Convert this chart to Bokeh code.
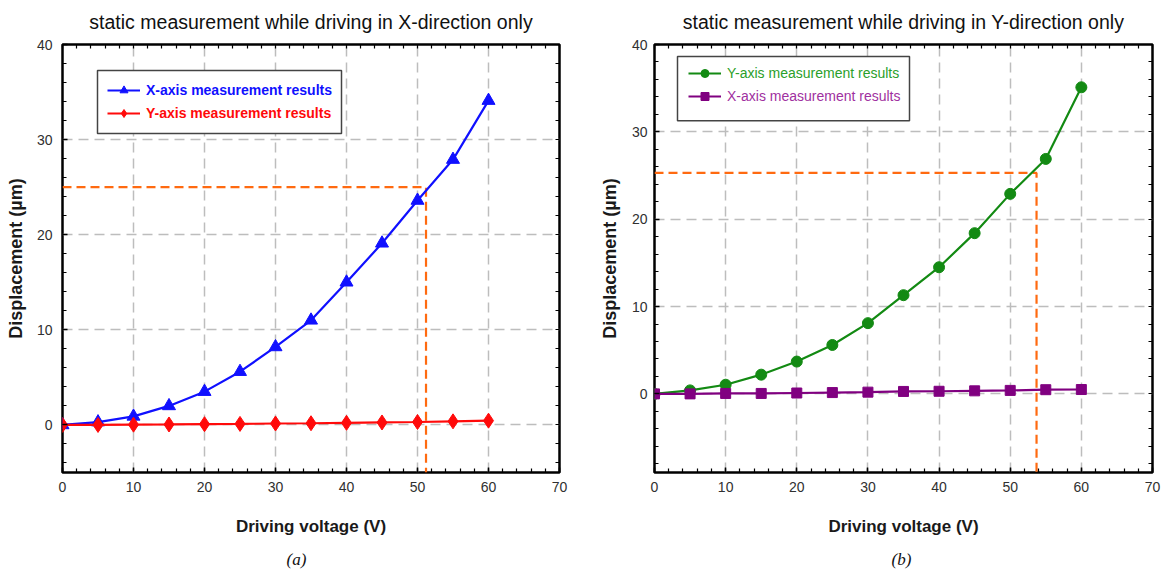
from bokeh.plotting import figure
from bokeh.models import (FixedTicker, LinearAxis, Range1d, Legend, LegendItem,
                          Label, Title, Grid, BoxAnnotation)
from bokeh.layouts import row
from bokeh.embed import file_html
from bokeh.resources import INLINE

# ---------------- data ----------------
voltage = [0, 5, 10, 15, 20, 25, 30, 35, 40, 45, 50, 55, 60]
# panel (a): driving in X-direction
a_x_disp = [0.0, 0.3, 0.9, 2.0, 3.5, 5.6, 8.2, 11.0, 15.0, 19.1, 23.6, 27.9, 34.1]
a_y_disp = [0.0, 0.0, 0.03, 0.05, 0.08, 0.11, 0.15, 0.18, 0.22, 0.26, 0.31, 0.38, 0.45]
# panel (b): driving in Y-direction
b_y_disp = [0.0, 0.4, 1.05, 2.2, 3.7, 5.6, 8.1, 11.3, 14.5, 18.4, 22.9, 26.9, 35.1]
b_x_disp = [0.0, 0.0, 0.05, 0.05, 0.1, 0.15, 0.2, 0.28, 0.3, 0.35, 0.4, 0.48, 0.5]

target_disp = 25
a_cross_v = 51.2
b_cross_v = 53.7

x_ticks = [0, 10, 20, 30, 40, 50, 60, 70]
y_ticks = [0, 10, 20, 30, 40]
grid_x = [10, 20, 30, 40, 50, 60]
grid_y = [0, 10, 20, 30]

title_a = "static measurement while driving in X-direction only"
title_b = "static measurement while driving in Y-direction only"
x_label = "Driving voltage (V)"
y_label = "Displacement (\u00b5m)"

FONT = "Liberation Sans"
ORANGE = "#ff6a10"
TXT = "#303030"
FIG_H = 579
X_MAX = 70
Y_MAX = 40


def make_panel(title, caption, caption_offset, y_start, width, mb_left, mb_right,
               mb_top, frame_w, frame_h, tick_std, ylab_std, title_std, series,
               box_px, legend_pad, legend_spacing, legend_style, cross_v, guide_y):
    p = figure(width=width, height=FIG_H, x_range=Range1d(0, X_MAX),
               y_range=Range1d(y_start, Y_MAX), output_backend="svg",
               toolbar_location=None, x_axis_type=None, y_axis_type=None,
               min_border_left=mb_left, min_border_right=mb_right,
               min_border_top=mb_top, min_border_bottom=FIG_H - mb_top - frame_h)
    p.background_fill_color = "white"
    p.border_fill_color = "white"
    p.outline_line_color = "black"
    p.outline_line_width = 2.5

    x_minor = list(range(0, 71, 2))
    y_minor = [v for v in range(-10, 41, 2) if v >= y_start]

    def mk_axis(ticker):
        ax = LinearAxis(ticker=ticker)
        ax.axis_line_color = None
        ax.major_tick_in = 5
        ax.major_tick_out = 0
        ax.minor_tick_in = 4
        ax.minor_tick_out = 0
        ax.major_tick_line_color = "black"
        ax.minor_tick_line_color = "black"
        ax.major_tick_line_width = 1.5
        ax.minor_tick_line_width = 1.2
        ax.major_label_text_font = FONT
        ax.major_label_text_color = TXT
        ax.major_label_text_font_size = "14px"
        ax.axis_label_text_font = FONT
        ax.axis_label_text_color = "#1a1a1a"
        return ax

    bottom = mk_axis(FixedTicker(ticks=x_ticks, minor_ticks=x_minor))
    bottom.major_label_standoff = 9
    bottom.axis_label = x_label
    bottom.axis_label_text_font_size = "17px"
    bottom.axis_label_text_font_style = "bold"
    bottom.axis_label_standoff = 22
    p.add_layout(bottom, "below")

    left = mk_axis(FixedTicker(ticks=y_ticks, minor_ticks=y_minor))
    left.major_label_standoff = tick_std
    left.axis_label = y_label
    left.axis_label_text_font_size = "18px"
    left.axis_label_text_font_style = "bold"
    left.axis_label_standoff = ylab_std
    p.add_layout(left, "left")

    # tick-only axes on the right and top (minor ticks carry no labels)
    right = mk_axis(FixedTicker(ticks=[], minor_ticks=y_minor))
    right.major_label_standoff = 0
    p.add_layout(right, "right")

    top = mk_axis(FixedTicker(ticks=[], minor_ticks=x_minor))
    top.major_label_standoff = 0
    top.axis_label = title
    top.axis_label_text_font_size = "19.5px"
    top.axis_label_text_font_style = "normal"
    top.axis_label_text_color = "#111111"
    top.axis_label_standoff = title_std
    p.add_layout(top, "above")

    p.add_layout(Title(text=caption, align="left", offset=caption_offset,
                       text_font="Liberation Serif", text_font_style="italic",
                       text_font_size="17px", text_color="#111111", standoff=18),
                 "below")

    # grid
    for dim, ticks in ((0, grid_x), (1, grid_y)):
        g = Grid(dimension=dim, ticker=FixedTicker(ticks=ticks))
        g.grid_line_color = "#bdbdbd"
        g.grid_line_width = 1.5
        g.grid_line_dash = "10 6"
        p.add_layout(g)

    # orange guide
    p.line([0, cross_v, cross_v], [guide_y, guide_y, y_start], line_color=ORANGE,
           line_width=2.2, line_dash="9 5")
    p.add_layout(Label(x=0, y=target_disp, x_offset=-tick_std, text=str(target_disp),
                       text_align="right", text_baseline="middle", text_color=ORANGE,
                       text_font=FONT, text_font_size="14px"))

    items = []
    for (ys, color, marker, msize, label, tcolor) in series:
        ln = p.line(voltage, ys, line_color=color, line_width=2.2)
        sc = p.scatter(voltage, ys, marker=marker, size=msize, fill_color=color,
                       line_color=color)
        items.append((label, [ln, sc], tcolor))

    # legend frame (given in frame pixels: left, top, right, bottom from frame top-left)
    bl, bt, br, bb = box_px
    sx = X_MAX / frame_w
    sy = (Y_MAX - y_start) / frame_h
    p.add_layout(BoxAnnotation(left=bl * sx, right=br * sx,
                               top=Y_MAX - bt * sy, bottom=Y_MAX - bb * sy,
                               fill_color="white", fill_alpha=1.0,
                               line_color="#444444", line_width=1.5, line_alpha=1.0))

    row_h = 20
    for i, (label, rends, tcolor) in enumerate(items):
        row_top = bt + legend_pad + i * (row_h + legend_spacing)
        leg = Legend(items=[LegendItem(label=label, renderers=rends)],
                     location=(bl + legend_pad, frame_h - row_top - row_h),
                     padding=0, spacing=0, margin=0,
                     glyph_width=33, glyph_height=row_h, label_height=row_h,
                     label_standoff=6, label_text_font=FONT,
                     label_text_font_size="14px", label_text_font_style=legend_style,
                     label_text_color=tcolor, border_line_color=None,
                     background_fill_alpha=0.0)
        p.add_layout(leg)
    return p


# panel (a): canvas 0..588, frame x 62..559, y 44..472
pa = make_panel(title_a, "(a)", 224, -5, 588, 62, 29, 44, 497, 428, 10, 8, 12,
                [(a_x_disp, "#1010ff", "triangle", 13, "X-axis measurement results", "#1010ff"),
                 (a_y_disp, "#ff0a0a", "diamond", 15, "Y-axis measurement results", "#ff0a0a")],
                (35, 26, 279, 89), 10, 3, "bold", a_cross_v, target_disp)

# panel (b): canvas 588..1163, frame x 654..1152, y 40..472
pb = make_panel(title_b, "(b)", 237, -9, 575, 66, 11, 40, 498, 432, 7, 9, 12,
                [(b_y_disp, "#138a13", "circle", 11, "Y-axis measurement results", "#2aa02a"),
                 (b_x_disp, "#800080", "square", 10, "X-axis measurement results", "#a030a0")],
                (23, 12, 255, 77), 11, 3, "normal", b_cross_v, 25.3)

layout = row(pa, pb)
open("out.html", "w").write(file_html(layout, INLINE))
